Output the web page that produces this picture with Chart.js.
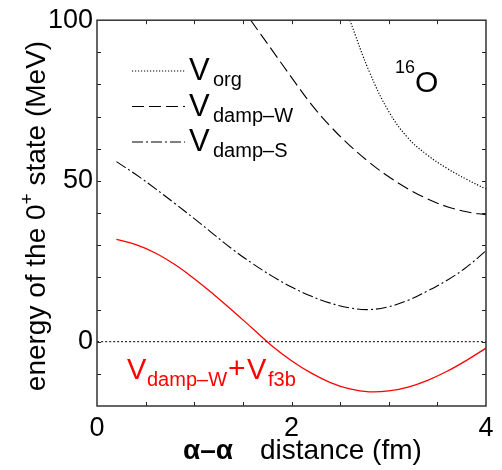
<!DOCTYPE html>
<html>
<head>
<meta charset="utf-8">
<script src="https://cdn.jsdelivr.net/npm/chart.js@4.4.1/dist/chart.umd.min.js"></script>
<style>
html,body{margin:0;padding:0;background:#fff;}
#c{display:block;}
</style>
</head>
<body>
<canvas id="c" width="502" height="470"></canvas>
<script>
// ---- data ----
const xOrg   = [2.60, 2.80, 3.00, 3.20, 3.40, 3.60, 3.80, 4.00];
const yOrg   = [100.0, 84.0, 71.6, 63.3, 58.0, 53.9, 50.5, 47.5];

const xDampW = [1.58, 1.80, 2.00, 2.20, 2.40, 2.60, 2.80, 3.00, 3.20, 3.40, 3.60, 3.80, 4.00];
const yDampW = [100.0, 90.7, 82.2, 74.0, 67.0, 61.0, 55.8, 51.3, 47.5, 44.4, 42.0, 40.4, 39.5];

const xDampS = [0.20, 0.40, 0.60, 0.80, 1.00, 1.20, 1.40, 1.60, 1.80, 2.00, 2.20, 2.40, 2.60, 2.80, 3.00, 3.20, 3.40, 3.60, 3.80, 4.00];
const yDampS = [56.0, 52.0, 47.6, 43.0, 38.3, 33.4, 28.6, 24.3, 20.4, 17.0, 14.2, 12.0, 10.5, 10.0, 10.9, 12.9, 15.8, 19.1, 23.2, 28.3];

const xF3b   = [0.20, 0.40, 0.60, 0.80, 1.00, 1.20, 1.40, 1.60, 1.80, 2.00, 2.20, 2.40, 2.60, 2.80, 3.00, 3.20, 3.40, 3.60, 3.80, 4.00];
const yF3b   = [31.8, 30.2, 27.6, 24.0, 19.6, 14.7, 9.5, 4.1, -1.3, -5.9, -9.7, -12.7, -14.7, -15.6, -15.3, -14.1, -12.0, -9.2, -5.8, -2.0];

const xZero  = [0, 4];
const yZero  = [0, 0];

const xTickLabels = [0, 2, 4];
const yTickLabels = [0, 50, 100];
const xTickMarks  = [0.5, 1, 1.5, 2, 2.5, 3, 3.5];
const yTickMarks  = [-10, 0, 10, 20, 30, 40, 50, 60, 70, 80, 90];

const zip = (xs, ys) => xs.map((x, i) => ({x: x, y: ys[i]}));
const FONT = '"Liberation Sans", Arial, Helvetica, sans-serif';

const dashOrg = [1.2, 1.8];
const dashW = [12, 5];
const dashS = [11, 3, 2, 3];

const deco = {
  id: 'deco',
  afterDatasetsDraw(chart) {
    const ctx = chart.ctx;
    const a = chart.chartArea;
    const xs = chart.scales.x, ys = chart.scales.y;
    ctx.save();
    // tick marks (inward, all four sides)
    ctx.strokeStyle = '#222';
    ctx.lineWidth = 1;
    ctx.setLineDash([]);
    const tl = 4;
    xTickMarks.forEach(v => {
      const px = Math.round(xs.getPixelForValue(v)) + 0.5;
      ctx.beginPath();
      ctx.moveTo(px, a.bottom); ctx.lineTo(px, a.bottom - tl);
      ctx.moveTo(px, a.top); ctx.lineTo(px, a.top + tl);
      ctx.stroke();
    });
    yTickMarks.forEach(v => {
      const py = Math.round(ys.getPixelForValue(v)) + 0.5;
      ctx.beginPath();
      ctx.moveTo(a.left, py); ctx.lineTo(a.left + tl, py);
      ctx.moveTo(a.right, py); ctx.lineTo(a.right - tl, py);
      ctx.stroke();
    });
    // frame
    ctx.strokeStyle = '#333';
    ctx.lineWidth = 1.5;
    ctx.strokeRect(a.left, a.top, a.right - a.left, a.bottom - a.top);

    // legend
    const legend = [
      {dash: dashOrg, y: 71, sub: 'org'},
      {dash: dashW, y: 106.5, sub: 'damp\u2013W'},
      {dash: dashS, y: 142, sub: 'damp\u2013S'}
    ];
    ctx.fillStyle = '#000';
    ctx.textBaseline = 'alphabetic';
    ctx.textAlign = 'left';
    legend.forEach(l => {
      ctx.strokeStyle = '#000';
      ctx.lineWidth = 1.1;
      ctx.setLineDash(l.dash);
      ctx.beginPath();
      ctx.moveTo(132, l.y); ctx.lineTo(185, l.y);
      ctx.stroke();
      ctx.setLineDash([]);
      ctx.font = '31px ' + FONT;
      ctx.fillText('V', 189, l.y + 9);
      ctx.font = '20px ' + FONT;
      ctx.fillText(l.sub, 213, l.y + 15);
    });

    // 16O
    ctx.font = '18px ' + FONT;
    ctx.fillText('16', 395, 73);
    ctx.font = '30px ' + FONT;
    ctx.fillText('O', 415, 92);

    // red label
    ctx.fillStyle = '#ff0000';
    ctx.font = '29px ' + FONT;
    ctx.fillText('V', 127, 379);
    ctx.font = '20px ' + FONT;
    ctx.fillText('damp\u2013W', 147, 386);
    ctx.font = '30px ' + FONT;
    ctx.fillText('+', 228, 378);
    ctx.font = '29px ' + FONT;
    ctx.fillText('V', 247, 379);
    ctx.font = '20px ' + FONT;
    ctx.fillText('f3b', 268, 386);

    // x axis title
    ctx.fillStyle = '#000';
    ctx.font = 'bold 28px ' + FONT;
    ctx.fillText('\u03b1\u2013\u03b1', 183, 459);
    ctx.font = '28px ' + FONT;
    ctx.fillText('distance (fm)', 260, 459);

    // y axis title
    ctx.translate(45, 216);
    ctx.rotate(-Math.PI / 2);
    const p1 = 'energy of the 0', p2 = '+', p3 = ' state (MeV)';
    ctx.font = '28px ' + FONT;
    const w1 = ctx.measureText(p1).width, w3 = ctx.measureText(p3).width;
    ctx.font = '19px ' + FONT;
    const w2 = ctx.measureText(p2).width;
    let x0 = -(w1 + w2 + w3) / 2;
    ctx.font = '28px ' + FONT;
    ctx.fillText(p1, x0, 0);
    ctx.font = '19px ' + FONT;
    ctx.fillText(p2, x0 + w1, -12);
    ctx.font = '28px ' + FONT;
    ctx.fillText(p3, x0 + w1 + w2, 0);
    ctx.restore();
  }
};

const lineDs = (data, color, dash, width) => ({
  data: data, borderColor: color, borderWidth: width, borderDash: dash,
  pointRadius: 0, fill: false, tension: 0.4
});

new Chart(document.getElementById('c'), {
  type: 'line',
  data: {
    datasets: [
      lineDs(zip(xZero, yZero), '#000', [2, 2], 1),
      lineDs(zip(xOrg, yOrg), '#000', dashOrg, 1.2),
      lineDs(zip(xDampW, yDampW), '#000', dashW, 1.1),
      lineDs(zip(xDampS, yDampS), '#000', dashS, 1.1),
      lineDs(zip(xF3b, yF3b), '#ff0000', [], 1.3)
    ]
  },
  options: {
    responsive: false,
    animation: false,
    devicePixelRatio: 1,
    layout: {padding: {left: 0, right: 16, top: 17, bottom: 0}},
    plugins: {legend: {display: false}, tooltip: {enabled: false}},
    scales: {
      x: {
        type: 'linear', min: 0, max: 4,
        afterBuildTicks: s => { s.ticks = xTickLabels.map(v => ({value: v})); },
        afterFit: s => { s.height = 64; },
        grid: {display: false, drawTicks: false},
        border: {display: false},
        ticks: {font: {family: FONT, size: 27}, color: '#000', padding: 6, maxRotation: 0, autoSkip: false}
      },
      y: {
        type: 'linear', min: -20, max: 100,
        afterBuildTicks: s => { s.ticks = yTickLabels.map(v => ({value: v})); },
        afterFit: s => { s.width = 97; },
        grid: {display: false, drawTicks: false},
        border: {display: false},
        ticks: {font: {family: FONT, size: 27}, color: '#000', padding: 4, autoSkip: false}
      }
    }
  },
  plugins: [deco]
});
</script>
</body>
</html>
